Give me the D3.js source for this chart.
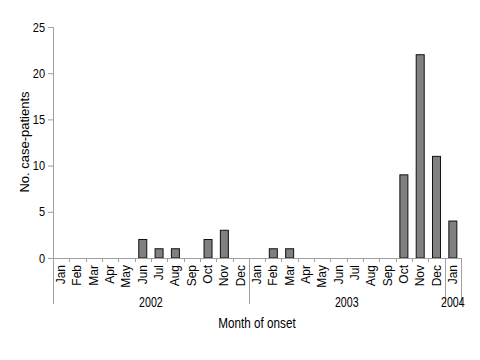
<!DOCTYPE html>
<html><head><meta charset="utf-8">
<script src="https://cdn.jsdelivr.net/npm/d3@7"></script>
<style>body{margin:0;background:#fff}svg{display:block}text{font-family:"Liberation Sans",Arial,sans-serif;fill:#000}</style>
</head><body>
<svg id="c" width="480" height="360"></svg>
<script>
const months = ["Jan","Feb","Mar","Apr","May","Jun","Jul","Aug","Sep","Oct","Nov","Dec",
                "Jan","Feb","Mar","Apr","May","Jun","Jul","Aug","Sep","Oct","Nov","Dec","Jan"];
const years = ["2002","2003","2004"];
const yearOfMonth = [0,0,0,0,0,0,0,0,0,0,0,0,1,1,1,1,1,1,1,1,1,1,1,1,2];
const cases = [0,0,0,0,0,2,1,1,0,2,3,0, 0,1,1,0,0,0,0,0,0,9,22,11, 4];
const yTicks = [0,5,10,15,20,25];

const svg = d3.select("#c");
const L = 53, R = 461, T = 27, B = 258;
const idx = months.map((m,i)=>i);
const x = d3.scaleBand().domain(idx).range([L,R]).paddingInner(0).paddingOuter(0);
const y = d3.scaleLinear().domain([0,25]).range([B,T]);
const axisColor = "#a0a0a0";

// y axis
const ya = svg.append("g").attr("transform",`translate(${L},0)`)
  .call(d3.axisLeft(y).tickValues(yTicks).tickSize(5).tickPadding(3));
ya.select(".domain").attr("stroke",axisColor);
ya.selectAll(".tick line").attr("stroke",axisColor);
ya.selectAll(".tick text").style("font-size","12.5px").attr("fill","#000")
  .attr("transform","translate(-8,0) scale(0.88,1) translate(8,0)");

// bars
const bw = 8;
svg.append("g").selectAll("rect").data(cases.map((v,i)=>({v,i})).filter(d=>d.v>0))
  .enter().append("rect")
  .attr("x",d=>x(d.i)+x.bandwidth()/2-bw/2)
  .attr("y",d=>y(d.v))
  .attr("width",bw)
  .attr("height",d=>y(0)-y(d.v))
  .attr("fill","#808080").attr("stroke","#111").attr("stroke-width",1);

// x axis line and minor ticks
svg.append("line").attr("x1",L).attr("x2",R).attr("y1",B+0.5).attr("y2",B+0.5).attr("stroke",axisColor);
svg.append("g").selectAll("line").data(idx.slice(1)).enter().append("line")
  .attr("x1",d=>Math.round(x(d))+0.5).attr("x2",d=>Math.round(x(d))+0.5)
  .attr("y1",B).attr("y2",B+4).attr("stroke",axisColor);

// month labels
svg.append("g").selectAll("text").data(idx).enter().append("text")
  .attr("transform",d=>`translate(${x(d)+x.bandwidth()/2+4},${B+7}) rotate(-90)`)
  .attr("text-anchor","end").style("font-size","12px").text(d=>months[d]);

// year separators
const yearStarts = years.map((yy,k)=>idx.find(i=>yearOfMonth[i]===k));
const yearEnds = years.map((yy,k)=>{const a=idx.filter(i=>yearOfMonth[i]===k);return a[a.length-1];});
const seps = yearStarts.map(i=>x(i)).concat([R]);
svg.append("g").selectAll("line").data(seps).enter().append("line")
  .attr("x1",d=>Math.round(d)+0.5).attr("x2",d=>Math.round(d)+0.5)
  .attr("y1",B).attr("y2",304).attr("stroke",axisColor);
svg.append("g").selectAll("text").data(years).enter().append("text")
  .attr("transform",(d,k)=>`translate(${(x(yearStarts[k])+x(yearEnds[k])+x.bandwidth())/2},307) scale(0.76,1)`)
  .attr("text-anchor","middle").style("font-size","14px").text(d=>d);

// axis titles
svg.append("text").attr("transform","translate(257,328) scale(0.78,1)").attr("text-anchor","middle")
  .style("font-size","15px").text("Month of onset");
svg.append("text").attr("transform",`translate(29,142) rotate(-90)`)
  .attr("text-anchor","middle").style("font-size","13px").text("No. case-patients");
</script>
</body></html>
